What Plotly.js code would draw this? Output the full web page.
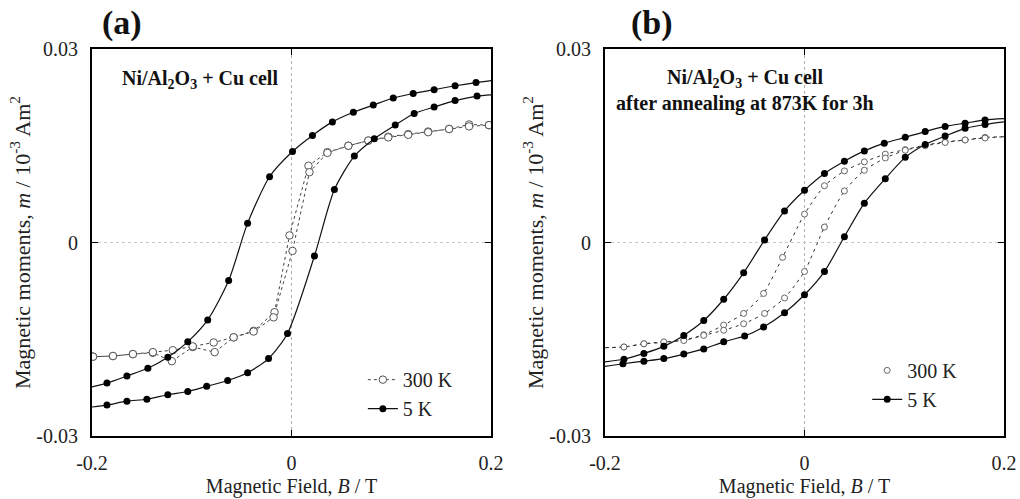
<!DOCTYPE html>
<html>
<head>
<meta charset="utf-8">
<script src="https://cdn.plot.ly/plotly-3.0.1.min.js"></script>
<style>html,body{margin:0;padding:0;background:#fff;}#chart{width:1020px;height:499px;}</style>
</head>
<body>
<div id="chart"></div>
<script>
// ---------- Data (B in T, m in 10^-3 Am^2) ----------
// Panel (a): Ni/Al2O3 + Cu cell
// 5 K, descending-field branch (first and last entries are the line ends at the axis edges)
const a5DownB = [0.200, 0.185, 0.164, 0.143, 0.122, 0.102, 0.082, 0.062, 0.041, 0.021, 0.001, -0.022, -0.044, -0.063, -0.084, -0.104, -0.124, -0.144, -0.165, -0.185, -0.200];
const a5DownM = [0.0251, 0.0248, 0.0243, 0.0237, 0.0231, 0.0224, 0.0213, 0.0202, 0.0187, 0.0166, 0.0141, 0.0102, 0.0030, -0.0059, -0.0120, -0.0154, -0.0178, -0.0195, -0.0207, -0.0218, -0.0224];
// 5 K, ascending-field branch
const a5UpB = [-0.200, -0.185, -0.165, -0.145, -0.124, -0.104, -0.085, -0.064, -0.044, -0.023, -0.004, 0.023, 0.043, 0.063, 0.083, 0.104, 0.123, 0.143, 0.164, 0.186, 0.200];
const a5UpM = [-0.0255, -0.0252, -0.0246, -0.0243, -0.0236, -0.0231, -0.0223, -0.0214, -0.0202, -0.0180, -0.0141, -0.0021, 0.0082, 0.0134, 0.0161, 0.0182, 0.0200, 0.0210, 0.0220, 0.0227, 0.0229];
// 300 K, descending branch
const a300DownB = [0.198, 0.178, 0.158, 0.137, 0.117, 0.097, 0.077, 0.057, 0.036, 0.017, -0.002, -0.017, -0.038, -0.058, -0.077, -0.099, -0.120, -0.139, -0.159, -0.179, -0.199];
const a300DownM = [0.0182, 0.0183, 0.0176, 0.0172, 0.0168, 0.0164, 0.0158, 0.0150, 0.0140, 0.0119, 0.0011, -0.0108, -0.0137, -0.0147, -0.0170, -0.0162, -0.0184, -0.0171, -0.0173, -0.0176, -0.0177];
// 300 K, ascending branch
const a300UpB = [-0.199, -0.179, -0.159, -0.139, -0.119, -0.099, -0.078, -0.058, -0.038, -0.018, 0.001, 0.018, 0.036, 0.057, 0.077, 0.097, 0.117, 0.137, 0.158, 0.178, 0.198];
const a300UpM = [-0.0177, -0.0176, -0.0173, -0.0170, -0.0167, -0.0161, -0.0155, -0.0147, -0.0138, -0.0116, -0.0013, 0.0109, 0.0139, 0.0150, 0.0158, 0.0163, 0.0167, 0.0171, 0.0176, 0.0180, 0.0182];

// Panel (b): after annealing at 873K for 3h (first and last entries are the line ends)
const b5DownB = [0.200, 0.181, 0.161, 0.141, 0.121, 0.101, 0.080, 0.060, 0.040, 0.020, 0.000, -0.020, -0.040, -0.061, -0.081, -0.101, -0.121, -0.141, -0.161, -0.181, -0.200];
const b5DownM = [0.0192, 0.0190, 0.0185, 0.0180, 0.0172, 0.0163, 0.0154, 0.0142, 0.0126, 0.0107, 0.0081, 0.0049, 0.0004, -0.0047, -0.0088, -0.0121, -0.0144, -0.0161, -0.0172, -0.0181, -0.0185];
const b5UpB = [-0.200, -0.182, -0.161, -0.141, -0.121, -0.101, -0.081, -0.060, -0.041, -0.020, 0.000, 0.020, 0.040, 0.060, 0.081, 0.101, 0.121, 0.141, 0.161, 0.181, 0.200];
const b5UpM = [-0.0192, -0.0188, -0.0184, -0.0180, -0.0173, -0.0165, -0.0154, -0.0145, -0.0131, -0.0109, -0.0081, -0.0045, 0.0009, 0.0061, 0.0099, 0.0132, 0.0152, 0.0165, 0.0177, 0.0183, 0.0187];
const b300DownB = [0.200, 0.181, 0.161, 0.141, 0.121, 0.101, 0.081, 0.060, 0.040, 0.020, 0.000, -0.022, -0.041, -0.061, -0.081, -0.101, -0.121, -0.141, -0.161, -0.181, -0.200];
const b300DownM = [0.0164, 0.0163, 0.0159, 0.0156, 0.0151, 0.0144, 0.0137, 0.0125, 0.0111, 0.0088, 0.0044, -0.0023, -0.0079, -0.0110, -0.0128, -0.0143, -0.0151, -0.0155, -0.0157, -0.0162, -0.0163];
const b300UpB = [-0.200, -0.181, -0.161, -0.141, -0.121, -0.101, -0.081, -0.061, -0.040, -0.020, 0.000, 0.020, 0.040, 0.060, 0.081, 0.101, 0.121, 0.141, 0.161, 0.181, 0.200];
const b300UpM = [-0.0163, -0.0162, -0.0157, -0.0154, -0.0152, -0.0144, -0.0136, -0.0126, -0.0110, -0.0086, -0.0045, 0.0024, 0.0080, 0.0112, 0.0131, 0.0143, 0.0150, 0.0155, 0.0159, 0.0162, 0.0164];

// Tick labels
const xTickVals = [-0.2, 0, 0.2];
const xTickText = ["-0.2", "0", "0.2"];
const yTickVals = [-0.03, 0, 0.03];
const yTickText = ["-0.03", "0", "0.03"];
const legendNames = ["300 K", "5 K"];

// ---------- Styles ----------
const FONT = "Liberation Serif, Times New Roman, serif";
const TXT = "#222";
const solid = {color: "#111", width: 1.2, shape: "spline", smoothing: 0.7};
const filled = {symbol: "circle", size: 7, color: "#000"};
const openA = {symbol: "circle", size: 7.5, color: "#fff", line: {color: "#555", width: 1}};
const openB = {symbol: "circle", size: 6, color: "#fff", line: {color: "#666", width: 1}};
const dashA = {color: "#444", width: 1, dash: "3px,3px"};
const dashB = {color: "#333", width: 1, dash: "3px,4px", shape: "spline", smoothing: 0.6};

const inner = a => a.slice(1, -1);
const traces = [];
function lineTrace(x, y, line, xa, ya) {
  traces.push({x: x, y: y, xaxis: xa, yaxis: ya, mode: "lines", line: line, showlegend: false, hoverinfo: "skip"});
}
function markTrace(x, y, marker, xa, ya) {
  traces.push({x: x, y: y, xaxis: xa, yaxis: ya, mode: "markers", marker: marker, showlegend: false});
}
// Panel (a)
lineTrace(a300DownB, a300DownM, dashA, "x", "y");
lineTrace(a300UpB, a300UpM, dashA, "x", "y");
markTrace(a300DownB, a300DownM, openA, "x", "y");
markTrace(a300UpB, a300UpM, openA, "x", "y");
lineTrace(a5DownB, a5DownM, solid, "x", "y");
lineTrace(a5UpB, a5UpM, solid, "x", "y");
markTrace(inner(a5DownB), inner(a5DownM), filled, "x", "y");
markTrace(inner(a5UpB), inner(a5UpM), filled, "x", "y");
// Panel (b)
lineTrace(b300DownB, b300DownM, dashB, "x2", "y2");
lineTrace(b300UpB, b300UpM, dashB, "x2", "y2");
markTrace(inner(b300DownB), inner(b300DownM), openB, "x2", "y2");
markTrace(inner(b300UpB), inner(b300UpM), openB, "x2", "y2");
lineTrace(b5DownB, b5DownM, solid, "x2", "y2");
lineTrace(b5UpB, b5UpM, solid, "x2", "y2");
markTrace(inner(b5DownB), inner(b5DownM), filled, "x2", "y2");
markTrace(inner(b5UpB), inner(b5UpM), filled, "x2", "y2");
// Legend entries
traces.push({x: [null], y: [null], xaxis: "x", yaxis: "y", mode: "lines+markers", name: legendNames[0], line: dashA, marker: openA, legend: "legend"});
traces.push({x: [null], y: [null], xaxis: "x", yaxis: "y", mode: "lines+markers", name: legendNames[1], line: {color: "#111", width: 1.2}, marker: filled, legend: "legend"});
traces.push({x: [null], y: [null], xaxis: "x2", yaxis: "y2", mode: "markers", name: legendNames[0], marker: openB, legend: "legend2"});
traces.push({x: [null], y: [null], xaxis: "x2", yaxis: "y2", mode: "lines+markers", name: legendNames[1], line: {color: "#111", width: 1.2}, marker: filled, legend: "legend2"});

function xAxis(domain, anchor) {
  return {
    domain: domain, anchor: anchor, range: [-0.2, 0.2],
    tickvals: xTickVals, ticktext: xTickText, ticks: "inside", ticklen: 6, tickwidth: 1.5, tickcolor: "#000",
    showline: true, linewidth: 2, linecolor: "#000", mirror: "ticks", zeroline: false,
    showgrid: true, gridcolor: "#b0b0b0", griddash: "dot", gridwidth: 1,
    tickfont: {family: FONT, size: 20, color: TXT}, ticklabelstandoff: 8,
    title: {text: "Magnetic Field, <i>B</i> / T", font: {family: FONT, size: 20, color: TXT}, standoff: 6}
  };
}
function yAxis(anchor) {
  return {
    domain: [0, 1], anchor: anchor, range: [-0.03, 0.03],
    tickvals: yTickVals, ticktext: yTickText, ticks: "inside", ticklen: 6, tickwidth: 1.5, tickcolor: "#000",
    showline: true, linewidth: 2, linecolor: "#000", mirror: "ticks", zeroline: false,
    showgrid: true, gridcolor: "#c8c8c8", griddash: "dot", gridwidth: 1,
    tickfont: {family: FONT, size: 20, color: TXT}, ticklabelstandoff: 8,
    title: {text: "Magnetic moments, <i>m</i> / 10<sup>-3</sup> Am<sup>2</sup>", font: {family: FONT, size: 22, color: TXT}, standoff: 0}
  };
}

const layout = {
  width: 1020, height: 499,
  margin: {l: 92, r: 16, t: 49, b: 63},
  paper_bgcolor: "#fff", plot_bgcolor: "#fff",
  font: {family: FONT, size: 20, color: TXT},
  xaxis: xAxis([0, 0.4375], "y"),
  yaxis: yAxis("x"),
  xaxis2: xAxis([0.5625, 1], "y2"),
  yaxis2: yAxis("x2"),
  legend: {x: 0.297, y: 0.196, xanchor: "left", yanchor: "top", bgcolor: "rgba(0,0,0,0)",
           font: {family: FONT, size: 20, color: TXT}, tracegroupgap: 0, itemwidth: 30},
  legend2: {x: 0.85, y: 0.22, xanchor: "left", yanchor: "top", bgcolor: "rgba(0,0,0,0)",
            font: {family: FONT, size: 20, color: TXT}, tracegroupgap: 0, itemwidth: 30},
  annotations: [
    {text: "<b>(a)</b>", xref: "paper", yref: "paper", x: 0.0329, y: 1.067, xanchor: "center", yanchor: "middle", showarrow: false, font: {family: FONT, size: 34, color: "#111"}},
    {text: "<b>(b)</b>", xref: "paper", yref: "paper", x: 0.614, y: 1.067, xanchor: "center", yanchor: "middle", showarrow: false, font: {family: FONT, size: 34, color: "#111"}},
    {text: "<b>Ni/Al<sub>2</sub>O<sub>3</sub> + Cu cell</b>", xref: "x domain", yref: "y domain", x: 0.07, y: 0.922, xanchor: "left", yanchor: "middle", showarrow: false, font: {family: FONT, size: 20, color: "#111"}},
    {text: "<b>Ni/Al<sub>2</sub>O<sub>3</sub> + Cu cell</b>", xref: "x2 domain", yref: "y2 domain", x: 0.352, y: 0.925, xanchor: "center", yanchor: "middle", showarrow: false, font: {family: FONT, size: 20, color: "#111"}},
    {text: "<b>after annealing at 873K for 3h</b>", xref: "x2 domain", yref: "y2 domain", x: 0.352, y: 0.860, xanchor: "center", yanchor: "middle", showarrow: false, font: {family: FONT, size: 20, color: "#111"}}
  ]
};

Plotly.newPlot("chart", traces, layout, {displayModeBar: false, staticPlot: true});
</script>
</body>
</html>
